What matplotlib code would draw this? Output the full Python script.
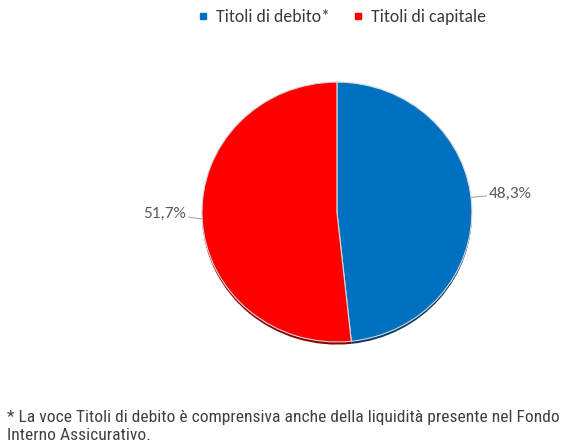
import matplotlib
matplotlib.use("Agg")
import matplotlib.pyplot as plt
import numpy as np
from matplotlib.lines import Line2D

categories = ["Titoli di debito*", "Titoli di capitale"]
values = [48.3, 51.7]
labels = ["48,3%", "51,7%"]
colors = ["#0070C0", "#FF0000"]
shadow_colors = ["#003a66", "#8a0000"]
footnote = ("* La voce Titoli di debito è comprensiva anche della liquidità presente nel Fondo\n"
            "Interno Assicurativo.")

fig = plt.figure(figsize=(5.73, 4.45), dpi=100)
ax = fig.add_axes([0.3525, 0.2315, 0.471, 0.584])

# shadow
ax.pie(values, colors=shadow_colors, startangle=90, counterclock=False,
       center=(0.0, -0.02), radius=1.0, wedgeprops=dict(linewidth=0))
wedges, _ = ax.pie(values, colors=colors, startangle=90, counterclock=False,
                   radius=1.0, wedgeprops=dict(linewidth=0.8, edgecolor="#d9d9d9"))
ax.set_aspect("auto")
ax.set_xlim(-1, 1)
ax.set_ylim(-1, 1)
ax.axis("off")

for w, lab in zip(wedges, labels):
    ang = np.deg2rad((w.theta1 + w.theta2) / 2)
    x, y = np.cos(ang), np.sin(ang)
    if x > 0:
        ax.annotate(lab, xy=(x, y + 0.06), xytext=(x + 0.13, y + 0.09),
                    ha="left", va="center", fontsize=12.5, color="#595959",
                    family="Carlito",
                    arrowprops=dict(arrowstyle="-", color="#a6a6a6", lw=0.8,
                                    shrinkA=0, shrinkB=0))
    else:
        ax.annotate(lab, xy=(x, y), xytext=(x - 0.12, y + 0.04),
                    ha="right", va="center", fontsize=12.5, color="#595959",
                    family="Carlito",
                    arrowprops=dict(arrowstyle="-", color="#a6a6a6", lw=0.8,
                                    shrinkA=0, shrinkB=0))

handles = [Line2D([0], [0], marker="s", linestyle="none", markersize=4,
                  markerfacecolor=c, markeredgecolor=c) for c in colors]
fig.legend(handles, categories, loc="center", bbox_to_anchor=(0.592, 0.962),
           ncol=2, frameon=False, handletextpad=0.1, columnspacing=1.0,
           handlelength=1.2,
           prop=dict(family="Carlito", size=12.8), labelcolor="#3a3a3a")

fig.text(0.012, 0.042, footnote, ha="left", va="center", fontsize=12.6,
         color="#404040", family="Roboto Condensed", linespacing=1.2)

fig.savefig("out.png", dpi=100)
